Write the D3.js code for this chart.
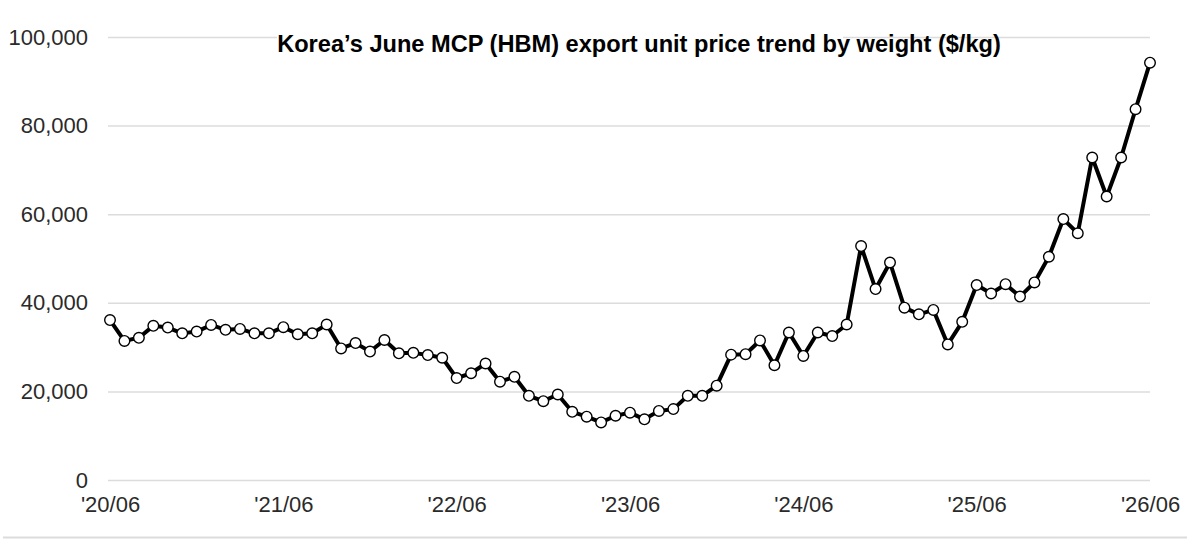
<!DOCTYPE html>
<html>
<head>
<meta charset="utf-8">
<script src="https://cdn.jsdelivr.net/npm/d3@7"></script>
<style>
  html, body { margin: 0; padding: 0; background: #fff; }
  svg { display: block; font-family: "Liberation Sans", Arial, sans-serif; }
</style>
</head>
<body>
<div id="chart"></div>
<script>
// Monthly export unit price ($/kg), June 2020 .. June 2026
const startYear = 2020;
const startMonth = 6;
const prices = [
  36100, 31400, 32100, 34800, 34400, 33100, 33500, 35000, 33900, 34100, 33100, 33100,
  34500, 32900, 33100, 35100, 29700, 30900, 29000, 31600, 28600, 28700, 28200, 27600,
  23000, 24100, 26300, 22200, 23300, 19000, 17800, 19300, 15400, 14300, 13000, 14500,
  15200, 13700, 15600, 16000, 19000, 19000, 21300, 28300, 28400, 31500, 25900, 33300,
  28000, 33300, 32500, 35100, 52800, 43100, 49100, 38900, 37400, 38400, 30600, 35700,
  44000, 42100, 44200, 41400, 44600, 50400, 58900, 55700, 72800, 64000, 72800, 83700,
  94200
];
const xTickLabels = ["'20/06", "'21/06", "'22/06", "'23/06", "'24/06", "'25/06", "'26/06"];
const yTicks = [0, 20000, 40000, 60000, 80000, 100000];
const title = "Korea\u2019s June MCP (HBM) export unit price trend by weight ($/kg)";

const width = 1200;
const height = 541;
const marginLeft = 110;
const marginRight = 50;
const marginTop = 37;
const plotBottom = 480;

const data = prices.map((v, i) => ({ i, value: v }));

const x = d3.scaleLinear()
    .domain([0, prices.length - 1])
    .range([marginLeft, width - marginRight]);

const y = d3.scaleLinear()
    .domain([0, 100000])
    .range([plotBottom, marginTop]);

const svg = d3.select("#chart").append("svg")
    .attr("width", width)
    .attr("height", height);

// gridlines + y labels
const yAxis = d3.axisLeft(y)
    .tickValues(yTicks)
    .tickFormat(d3.format(","))
    .tickSize(-(width - marginRight - marginLeft + 2))
    .tickPadding(20);

svg.append("g")
    .attr("transform", `translate(${marginLeft - 2},0)`)
    .call(yAxis)
    .call(g => g.select(".domain").remove())
    .call(g => g.selectAll(".tick line").attr("stroke", "#dcdcdc").attr("stroke-width", 1.5))
    .call(g => g.selectAll(".tick text")
        .attr("fill", "#2a2a2a")
        .attr("font-size", 22)
        .attr("x", -20));

// x labels every 12 months
const xAxis = d3.axisBottom(x)
    .tickValues(xTickLabels.map((d, k) => k * 12))
    .tickFormat((d, k) => xTickLabels[k])
    .tickSize(0)
    .tickPadding(16);

svg.append("g")
    .attr("transform", `translate(0,${plotBottom})`)
    .call(xAxis)
    .call(g => g.select(".domain").remove())
    .call(g => g.selectAll(".tick text")
        .attr("fill", "#2a2a2a")
        .attr("font-size", 22));

// bottom rule
svg.append("line")
    .attr("x1", 3).attr("x2", 1187)
    .attr("y1", 537.5).attr("y2", 537.5)
    .attr("stroke", "#dcdcdc")
    .attr("stroke-width", 2);

// white patch behind title (as in original)
svg.append("rect")
    .attr("x", 277).attr("y", 28)
    .attr("width", 566).attr("height", 18)
    .attr("fill", "#fff");

// title
svg.append("text")
    .attr("x", 639)
    .attr("y", 52)
    .attr("text-anchor", "middle")
    .attr("font-size", 23.6)
    .attr("font-weight", "bold")
    .attr("fill", "#000")
    .text(title);

// line
const line = d3.line()
    .x(d => x(d.i))
    .y(d => y(d.value));

svg.append("path")
    .datum(data)
    .attr("fill", "none")
    .attr("stroke", "#000")
    .attr("stroke-width", 4)
    .attr("stroke-linejoin", "round")
    .attr("d", line);

// markers
svg.append("g")
    .selectAll("circle")
    .data(data)
    .enter()
    .append("circle")
    .attr("cx", d => x(d.i))
    .attr("cy", d => y(d.value))
    .attr("r", 5.3)
    .attr("fill", "#fff")
    .attr("stroke", "#000")
    .attr("stroke-width", 1.4);
</script>
</body>
</html>
